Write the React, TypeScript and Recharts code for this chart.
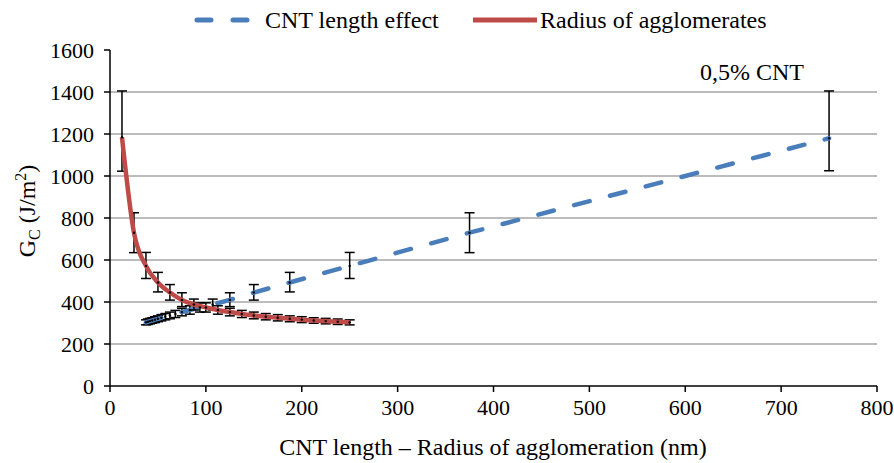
import { LineChart, Line, XAxis, YAxis, CartesianGrid, ErrorBar } from 'recharts';

const FONT = 'Liberation Serif';

// Radius of agglomerates (nm) vs Gc
const radiusX = [12.5, 25, 37.5, 50, 62.5, 75, 87.5, 100, 112.5, 125, 137.5, 150, 162.5, 175, 187.5, 200, 212.5, 225, 237.5, 250];
const radiusGc = [1185, 730, 572, 493, 445, 410, 388, 374, 362, 352, 343, 336, 330, 325, 320, 316, 312, 309, 306, 303];
const radiusErrLow = [162, 95, 60, 45, 36, 32, 26, 22, 20, 18, 17, 16, 15, 15, 14, 14, 13, 13, 13, 12];
const radiusErrHigh = [220, 95, 64, 48, 38, 34, 26, 22, 20, 18, 17, 16, 15, 15, 14, 14, 13, 13, 13, 12];

// CNT length effect (nm) vs Gc
const lengthX = [37.5, 39.5, 41.7, 44.1, 46.9, 50, 53.6, 57.7, 62.5, 68.2, 75, 83.3, 93.75, 107.1, 125, 150, 187.5, 250, 375, 750];
const lengthGc = [303, 306, 309, 312, 316, 320, 325, 330, 336, 343, 352, 362, 374, 388, 410, 445, 493, 572, 730, 1180];
const lengthErrLow = [12, 13, 13, 13, 14, 14, 15, 15, 16, 17, 18, 20, 22, 26, 32, 36, 45, 60, 95, 155];
const lengthErrHigh = [12, 13, 13, 13, 14, 14, 15, 15, 16, 17, 18, 20, 22, 26, 34, 38, 48, 64, 95, 225];

const xTicks = [0, 100, 200, 300, 400, 500, 600, 700, 800];
const yTicks = [0, 200, 400, 600, 800, 1000, 1200, 1400, 1600];
const gridValues = [200, 400, 600, 800, 1000, 1200, 1400];

const radiusData = radiusX.map((x, i) => ({ x, gc: radiusGc[i], err: [radiusErrLow[i], radiusErrHigh[i]] }));
const lengthData = lengthX.map((x, i) => ({ x, gc: lengthGc[i], err: [lengthErrLow[i], lengthErrHigh[i]] }));

const BLUE = '#4a7ebb';
const RED = '#be4b48';

function ChartLegend() {
  return (
    <g>
      <line x1={197} y1={20} x2={251} y2={20} stroke={BLUE} strokeWidth={5} strokeDasharray="14 22" strokeLinecap="round" />
      <text x={265} y={28} fontSize={24} fill="#000" style={{ fontFamily: FONT }}>CNT length effect</text>
      <line x1={473} y1={20} x2={537} y2={20} stroke={RED} strokeWidth={5} />
      <text x={540} y={28} fontSize={24} fill="#000" style={{ fontFamily: FONT }}>Radius of agglomerates</text>
    </g>
  );
}

const tickStyle = { fill: '#000', fontSize: 22, style: { fontFamily: FONT } };

export default function App() {
  return (
    <div style={{ position: 'absolute', left: 0, top: 0, background: '#fff' }}>
      <LineChart width={894} height={463} margin={{ top: 50, right: 17, bottom: 0, left: 0 }}>
        <CartesianGrid vertical={false} horizontalValues={gridValues} stroke="#a6a6a6" strokeWidth={1.5} />
        <XAxis
          dataKey="x"
          type="number"
          domain={[0, 800]}
          ticks={xTicks}
          height={77}
          allowDataOverflow
          axisLine={{ stroke: '#000', strokeWidth: 1.5 }}
          tickLine={{ stroke: '#000', strokeWidth: 1.5 }}
          tickSize={6}
          tickMargin={7}
          tick={tickStyle}
        />
        <YAxis
          type="number"
          domain={[0, 1600]}
          ticks={yTicks}
          width={110}
          axisLine={{ stroke: '#000', strokeWidth: 1.5 }}
          tickLine={{ stroke: '#000', strokeWidth: 1.5 }}
          tickSize={6}
          tickMargin={10}
          tick={tickStyle}
        />
        <Line
          data={lengthData}
          dataKey="gc"
          type="linear"
          stroke={BLUE}
          strokeWidth={4.5}
          strokeDasharray="16 21"
          strokeLinecap="round"
          dot={{ r: 1.2, fill: '#000', strokeWidth: 0 }}
          isAnimationActive={false}
        >
          <ErrorBar dataKey="err" direction="y" width={5} stroke="#000" strokeWidth={1.5} />
        </Line>
        <Line
          data={radiusData}
          dataKey="gc"
          type="monotone"
          stroke={RED}
          strokeWidth={4.5}
          dot={{ r: 1.2, fill: '#000', strokeWidth: 0 }}
          isAnimationActive={false}
        >
          <ErrorBar dataKey="err" direction="y" width={5} stroke="#000" strokeWidth={1.5} />
        </Line>
        <ChartLegend />
        <text x={752} y={80} textAnchor="middle" style={{ fontFamily: FONT }} fontSize={24} fill="#000">0,5% CNT</text>
        <text
          x={0}
          y={0}
          transform="translate(35, 211) rotate(-90)"
          textAnchor="middle"
          style={{ fontFamily: FONT }}
          fontSize={24}
          fill="#000"
        >
          G<tspan fontSize={16} dy={5}>C</tspan>
          <tspan dy={-5}> (J/m</tspan>
          <tspan fontSize={16} dy={-9}>2</tspan>
          <tspan dy={9}>)</tspan>
        </text>
        <text x={493} y={455} textAnchor="middle" style={{ fontFamily: FONT }} fontSize={24} fill="#000">
          CNT length – Radius of agglomeration (nm)
        </text>
      </LineChart>
    </div>
  );
}
